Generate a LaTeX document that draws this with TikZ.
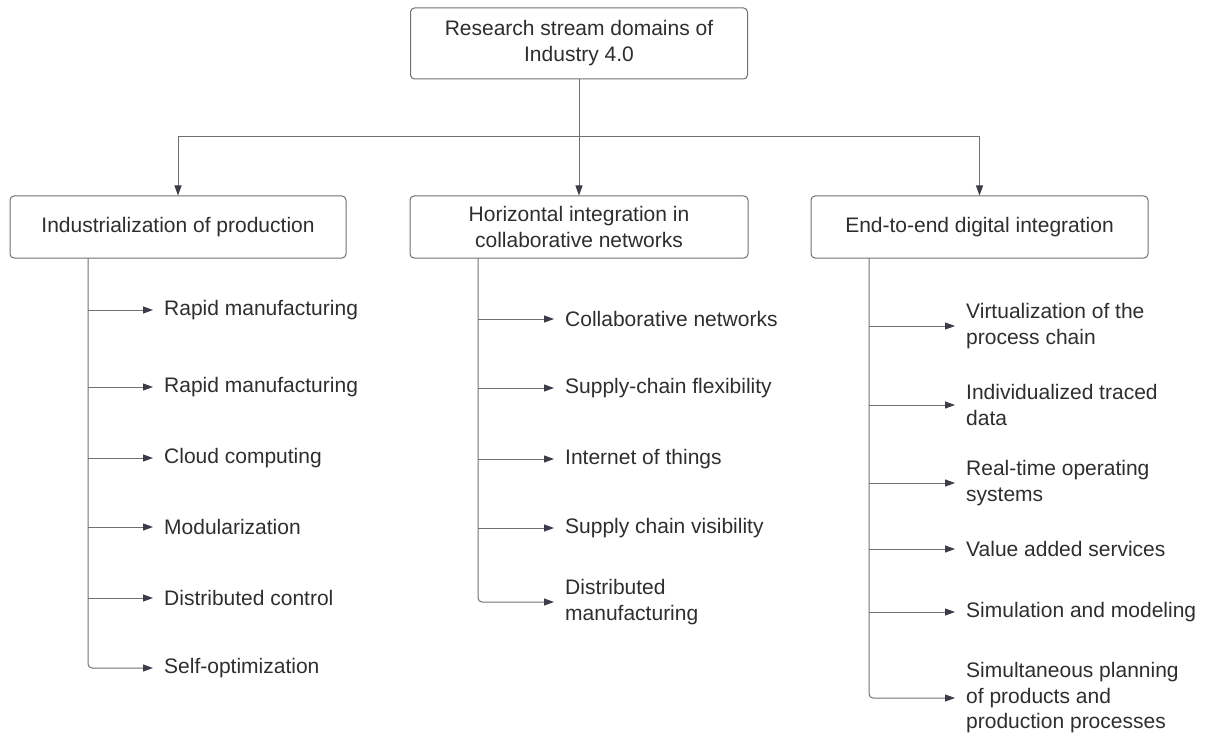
\documentclass[tikz,border=0pt]{standalone}
\usepackage{fontspec}
\setmainfont{Liberation Sans}
\usetikzlibrary{arrows.meta}
\definecolor{linegrey}{HTML}{707070}
\definecolor{tipgrey}{HTML}{3C3C48}
\definecolor{txt}{HTML}{2E2E2E}
\begin{document}
\begin{tikzpicture}[x=1pt,y=-1pt,
  box/.style={draw=linegrey, line width=1pt, rounded corners=4pt, fill=white,
    text=txt, align=center, font=\fontsize{21}{26}\selectfont},
  item/.style={anchor=west, inner sep=0pt, align=left, text=txt,
    font=\fontsize{21}{25.5}\selectfont},
  link/.style={draw=linegrey, line width=1pt, shorten >=11pt,
    -{Triangle[length=10pt,width=7pt,color=tipgrey]}},
  rail/.style={draw=linegrey, line width=1pt}]
\useasboundingbox (0,0) rectangle (1207,738);

% root and the three domains
\node[box, minimum width=337pt, minimum height=71pt] (root) at (579,43.5)
  {Research stream domains of\\Industry 4.0};
\node[box, minimum width=336pt, minimum height=62pt] (A) at (178,227)
  {Industrialization of production};
\node[box, minimum width=338pt, minimum height=62pt] (B) at (579,227)
  {Horizontal integration in\\collaborative networks};
\node[box, minimum width=337pt, minimum height=62pt] (C) at (979.5,227)
  {End-to-end digital integration};

% distribution bus
\coordinate (bus) at (579,137);
\draw[rail] (root.south) -- (bus);
\draw[rail] (A.north |- bus) -- (C.north |- bus);
\foreach \n in {A,B,C}
  \draw[link, shorten >=0pt] (\n.north |- bus) -- (\n.north);

% first domain
\node[item] (a1) at (164,310) {Rapid manufacturing};
\node[item] (a2) at (164,387) {Rapid manufacturing};
\node[item] (a3) at (164,458) {Cloud computing};
\node[item] (a4) at (164,527) {Modularization};
\node[item] (a5) at (164,598) {Distributed control};
\node[item] (a6) at (164,668) {Self-optimization};
\coordinate (railA) at (88,258);
\foreach \n in {a1,a2,a3,a4,a5}
  \draw[link] (railA |- \n.west) -- (\n.west);
\draw[link, rounded corners=4pt] (railA) |- (a6.west);

% second domain
\node[item] (b1) at (565,319) {Collaborative networks};
\node[item] (b2) at (565,388) {Supply-chain flexibility};
\node[item] (b3) at (565,459) {Internet of things};
\node[item] (b4) at (565,528) {Supply chain visibility};
\node[item] (b5) at (565,602) {Distributed\\manufacturing};
\coordinate (railB) at (478,258);
\foreach \n in {b1,b2,b3,b4}
  \draw[link] (railB |- \n.west) -- (\n.west);
\draw[link, rounded corners=4pt] (railB) |- (b5.west);

% third domain
\node[item] (c1) at (966,326) {Virtualization of the\\process chain};
\node[item] (c2) at (966,405) {Individualized traced\\data};
\node[item] (c3) at (966,483) {Real-time operating\\systems};
\node[item] (c4) at (966,549) {Value added services};
\node[item] (c5) at (966,612) {Simulation and modeling};
\node[item] (c6) at (966,698) {Simultaneous planning\\of products and\\production processes};
\coordinate (railC) at (869,258);
\foreach \n in {c1,c2,c3,c4,c5}
  \draw[link] (railC |- \n.west) -- (\n.west);
\draw[link, rounded corners=4pt] (railC) |- (c6.west);
\end{tikzpicture}
\end{document}
